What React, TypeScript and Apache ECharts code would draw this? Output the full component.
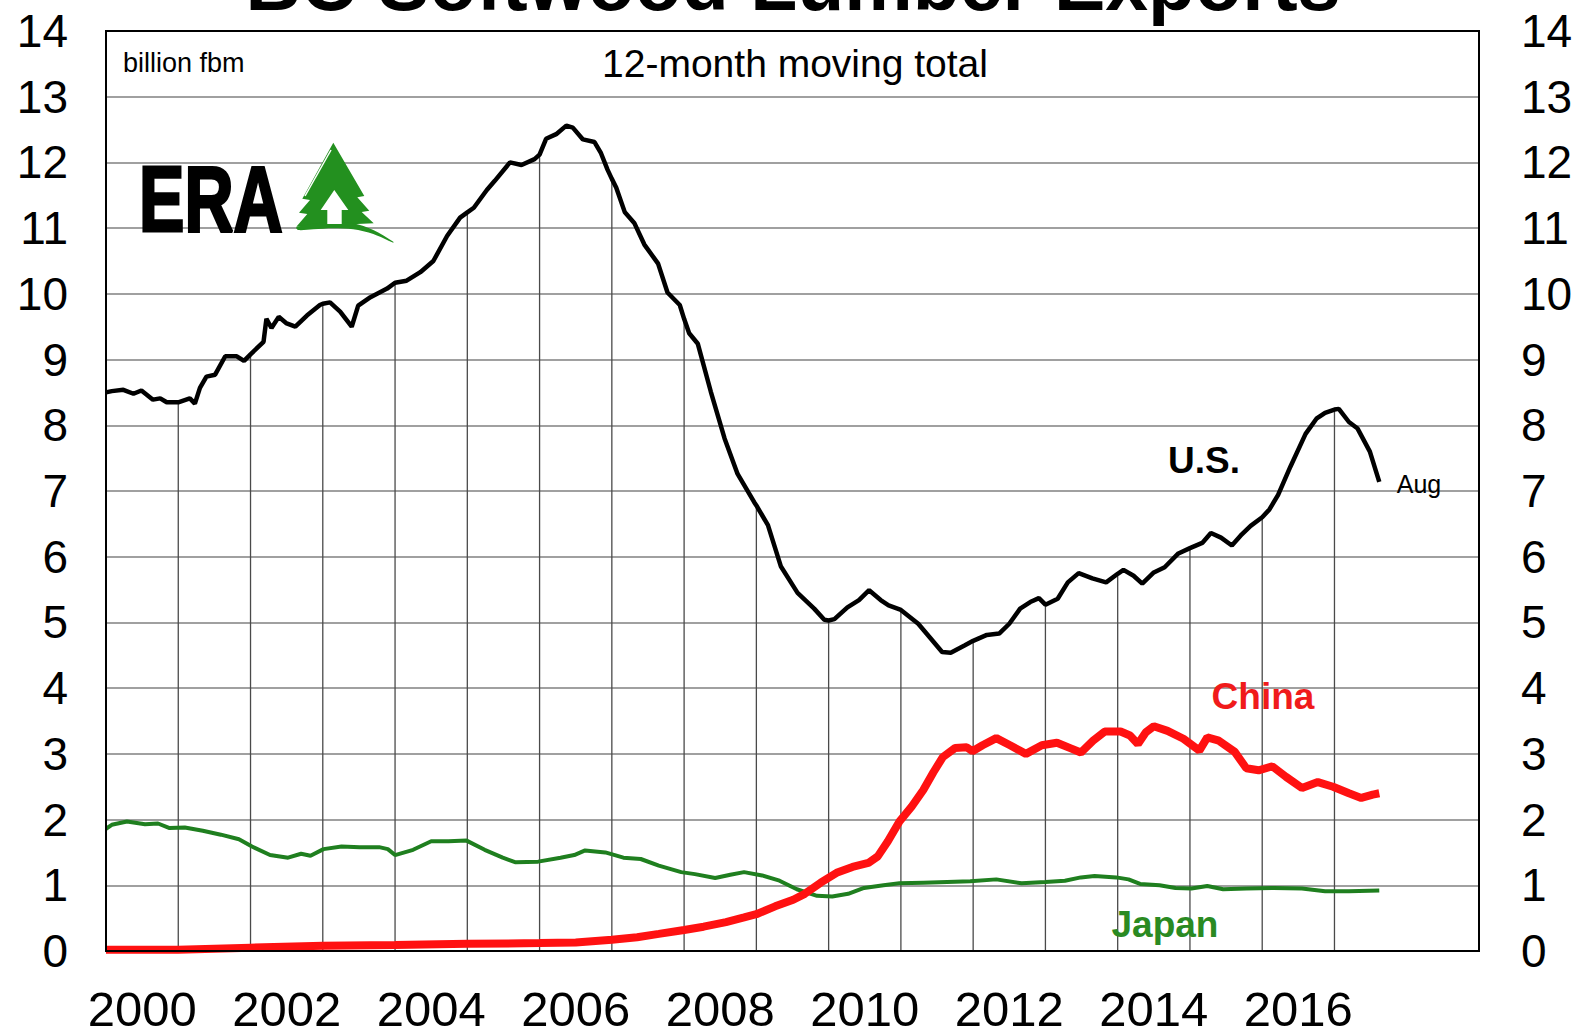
import React, { useEffect, useRef } from 'react';
import * as echarts from 'echarts';

// ---- data (billion fbm, 12-month moving total) ----
const startYear = 2000;
const endYear = 2019;
const xTickLabels = ['2000', '2002', '2004', '2006', '2008', '2010', '2012', '2014', '2016'];

const usYears = [
  2000.0, 2000.08, 2000.24, 2000.38, 2000.49, 2000.65, 2000.75, 2000.84,
  2001.0, 2001.16, 2001.23, 2001.3, 2001.39, 2001.51, 2001.65, 2001.81, 2001.91,
  2002.0, 2002.18, 2002.22, 2002.29, 2002.39, 2002.5, 2002.62, 2002.78, 2002.96,
  2003.0, 2003.1, 2003.24, 2003.4, 2003.49, 2003.66, 2003.89,
  2004.0, 2004.16, 2004.35, 2004.53, 2004.72, 2004.9,
  2005.0, 2005.09, 2005.27, 2005.38, 2005.59, 2005.75, 2005.93,
  2006.0, 2006.09, 2006.23, 2006.37, 2006.46, 2006.6, 2006.76, 2006.85, 2006.94,
  2007.0, 2007.06, 2007.18, 2007.31, 2007.45, 2007.64, 2007.77, 2007.94,
  2008.0, 2008.07, 2008.19, 2008.37, 2008.56, 2008.74, 2008.97,
  2009.0, 2009.16, 2009.34, 2009.57, 2009.8, 2009.94,
  2010.0, 2010.08, 2010.26, 2010.42, 2010.56, 2010.72, 2010.83,
  2011.0, 2011.24, 2011.41, 2011.57, 2011.69, 2011.88,
  2012.0, 2012.19, 2012.36, 2012.5, 2012.65, 2012.79, 2012.91,
  2013.0, 2013.17, 2013.31, 2013.46, 2013.65, 2013.84,
  2014.0, 2014.08, 2014.22, 2014.34, 2014.5, 2014.65, 2014.84,
  2015.0, 2015.17, 2015.29, 2015.43, 2015.58, 2015.7, 2015.84,
  2016.0, 2016.1, 2016.22, 2016.39, 2016.6, 2016.75, 2016.87,
  2017.0, 2017.06, 2017.2, 2017.32, 2017.49, 2017.62,
];
const usValues = [
  8.5, 8.52, 8.54, 8.48, 8.53, 8.39, 8.41, 8.35,
  8.35, 8.41, 8.33, 8.57, 8.74, 8.77, 9.05, 9.05, 8.98,
  9.08, 9.27, 9.62, 9.48, 9.65, 9.55, 9.5, 9.67, 9.83,
  9.85, 9.87, 9.73, 9.5, 9.82, 9.95, 10.08,
  10.17, 10.2, 10.33, 10.5, 10.88, 11.16,
  11.24, 11.31, 11.58, 11.72, 12.0, 11.96, 12.05,
  12.12, 12.36, 12.43, 12.56, 12.53, 12.35, 12.31, 12.14, 11.89,
  11.75, 11.62, 11.24, 11.08, 10.75, 10.46, 10.02, 9.83,
  9.62, 9.4, 9.24, 8.51, 7.8, 7.26, 6.83,
  6.78, 6.48, 5.85, 5.45, 5.21, 5.04,
  5.03, 5.05, 5.23, 5.34, 5.49, 5.34, 5.26,
  5.19, 4.98, 4.76, 4.55, 4.54, 4.65,
  4.72, 4.81, 4.83, 4.98, 5.21, 5.31, 5.37,
  5.27, 5.36, 5.61, 5.75, 5.67, 5.61,
  5.74, 5.8, 5.71, 5.59, 5.76, 5.84, 6.05,
  6.13, 6.21, 6.36, 6.29, 6.17, 6.32, 6.47,
  6.6, 6.72, 6.94, 7.37, 7.87, 8.1, 8.19,
  8.24, 8.25, 8.05, 7.95, 7.6, 7.14,
];

const japanYears = [
  2000.0, 2000.08, 2000.29, 2000.54, 2000.72, 2000.88, 2001.09, 2001.34, 2001.59, 2001.84,
  2002.02, 2002.27, 2002.52, 2002.7, 2002.83, 2003.01, 2003.26, 2003.51, 2003.78, 2003.9,
  2004.0, 2004.25, 2004.5, 2004.74, 2004.99, 2005.24, 2005.49, 2005.67, 2005.98, 2006.29,
  2006.48, 2006.63, 2006.91, 2007.16, 2007.4, 2007.65, 2007.96, 2008.15, 2008.43, 2008.64,
  2008.83, 2009.08, 2009.32, 2009.56, 2009.84, 2010.05, 2010.27, 2010.49, 2010.76, 2010.98,
  2011.31, 2011.64, 2011.96, 2012.32, 2012.67, 2013.0, 2013.27, 2013.49, 2013.68, 2013.98,
  2014.15, 2014.31, 2014.58, 2014.8, 2015.02, 2015.24, 2015.46, 2015.78, 2016.16, 2016.55,
  2016.87, 2017.2, 2017.62,
];
const japanValues = [
  1.86, 1.92, 1.97, 1.93, 1.94, 1.87, 1.88, 1.83, 1.77, 1.7,
  1.59, 1.46, 1.42, 1.48, 1.45, 1.55, 1.59, 1.58, 1.58, 1.55,
  1.46, 1.54, 1.67, 1.67, 1.68, 1.54, 1.42, 1.35, 1.36, 1.42,
  1.46, 1.53, 1.5, 1.42, 1.4, 1.3, 1.2, 1.17, 1.11, 1.16,
  1.2, 1.15, 1.07, 0.94, 0.84, 0.83, 0.87, 0.96, 1.0, 1.03,
  1.04, 1.05, 1.06, 1.09, 1.03, 1.05, 1.07, 1.12, 1.14, 1.12,
  1.09, 1.02, 1.0, 0.96, 0.95, 0.99, 0.94, 0.95, 0.96, 0.95,
  0.91, 0.91, 0.92,
];

const chinaYears = [
  2000.0, 2001.0, 2002.0, 2003.0, 2004.0, 2005.0, 2006.0, 2006.5, 2007.0, 2007.35,
  2007.65, 2008.0, 2008.27, 2008.58, 2008.83, 2009.0, 2009.26, 2009.51, 2009.67, 2009.89,
  2010.11, 2010.33, 2010.55, 2010.68, 2010.82, 2010.98, 2011.15, 2011.31, 2011.45, 2011.58,
  2011.75, 2011.91, 2011.99, 2012.13, 2012.32, 2012.51, 2012.73, 2012.95, 2013.16, 2013.36,
  2013.49, 2013.66, 2013.82, 2014.04, 2014.17, 2014.28, 2014.39, 2014.5, 2014.69, 2014.91,
  2015.13, 2015.24, 2015.4, 2015.62, 2015.78, 2015.95, 2016.14, 2016.33, 2016.55, 2016.77,
  2016.98, 2017.2, 2017.37, 2017.53, 2017.62,
];
const chinaValues = [
  0.02, 0.02, 0.05, 0.08, 0.09, 0.11, 0.12, 0.13, 0.17, 0.21,
  0.26, 0.32, 0.37, 0.44, 0.51, 0.56, 0.68, 0.78, 0.87, 1.04,
  1.19, 1.28, 1.34, 1.44, 1.67, 1.97, 2.2, 2.45, 2.72, 2.95,
  3.09, 3.1, 3.04, 3.13, 3.24, 3.13, 3.0, 3.13, 3.17, 3.08,
  3.02, 3.2, 3.34, 3.34, 3.28, 3.15, 3.33, 3.42, 3.35, 3.23,
  3.05, 3.25, 3.2, 3.03, 2.78, 2.75, 2.81, 2.65, 2.48, 2.57,
  2.5, 2.4, 2.33, 2.38, 2.4,
];

const FONT = "'Liberation Sans', Arial, Helvetica, sans-serif";

function txt(text: string, x: number, y: number, size: number, opts: any = {}) {
  const align = opts.align || 'left';
  const style: any = {
    text,
    fontSize: size,
    fontWeight: opts.bold ? 'bold' : 'normal',
    fontFamily: FONT,
    fill: opts.color || '#000',
    textAlign: align,
    align,
    textVerticalAlign: 'middle',
    verticalAlign: 'middle',
  };
  if (opts.stroke) {
    style.stroke = opts.stroke;
    style.lineWidth = opts.strokeWidth || 2;
  }
  return {
    type: 'text',
    x,
    y,
    z: 100,
    scaleX: opts.scaleX || 1,
    style,
  };
}

export default function App() {
  const ref = useRef<HTMLDivElement>(null);

  useEffect(() => {
    if (!ref.current) return;
    const chart = echarts.init(ref.current, null, { renderer: 'svg' });

    const pairs = (xs: number[], ys: number[]) => xs.map((x, i) => [x, ys[i]]);
    const usData = pairs(usYears, usValues);
    const dropData = usData.filter(([x]) => Number.isInteger(x) && x > startYear);
    const catYears: string[] = [];
    for (let y = startYear; y < endYear; y++) catYears.push(String(y));

    const green = '#23901f';

    chart.setOption({
      animation: false,
      backgroundColor: '#ffffff',
      textStyle: { fontFamily: FONT },
      grid: {
        left: 106,
        right: 102,
        top: 31,
        bottom: 84,
        show: true,
        borderColor: '#000',
        borderWidth: 2,
        backgroundColor: 'transparent',
        z: 10,
      },
      xAxis: [
        {
          type: 'value',
          min: startYear,
          max: endYear,
          interval: 1,
          axisLine: { show: false },
          axisTick: { show: false },
          axisLabel: { show: false },
          splitLine: { show: false },
        },
        {
          type: 'category',
          position: 'bottom',
          data: catYears,
          boundaryGap: true,
          axisLine: { show: false },
          axisTick: { show: false },
          splitLine: { show: false },
          axisLabel: {
            interval: 0,
            margin: 33,
            fontSize: 49,
            color: '#000',
            fontFamily: FONT,
            formatter: (v: string) => (xTickLabels.includes(v) ? v : ''),
          },
        },
      ],
      yAxis: [
        {
          type: 'value',
          position: 'left',
          min: 0,
          max: 14,
          interval: 1,
          axisLine: { show: false },
          axisTick: { show: false },
          axisLabel: { fontSize: 46, color: '#000', margin: 38, fontFamily: FONT },
          splitLine: { show: true, lineStyle: { color: '#a0a0a0', width: 2 } },
        },
        {
          type: 'value',
          position: 'right',
          min: 0,
          max: 14,
          interval: 1,
          axisLine: { show: false },
          axisTick: { show: false },
          axisLabel: { fontSize: 46, color: '#000', margin: 42, fontFamily: FONT },
          splitLine: { show: false },
        },
      ],
      series: [
        {
          name: 'drop',
          type: 'bar',
          xAxisIndex: 0,
          yAxisIndex: 0,
          data: dropData,
          barWidth: 1.3,
          itemStyle: { color: '#4a4a4a' },
          silent: true,
          z: 1,
        },
        {
          name: 'Japan',
          type: 'line',
          xAxisIndex: 0,
          yAxisIndex: 0,
          data: pairs(japanYears, japanValues),
          showSymbol: false,
          lineStyle: { color: '#1f7f1f', width: 4 },
          z: 3,
        },
        {
          name: 'China',
          type: 'line',
          xAxisIndex: 0,
          yAxisIndex: 0,
          data: pairs(chinaYears, chinaValues),
          showSymbol: false,
          lineStyle: { color: '#ff1111', width: 8 },
          z: 4,
        },
        {
          name: 'U.S.',
          type: 'line',
          xAxisIndex: 0,
          yAxisIndex: 0,
          data: usData,
          showSymbol: false,
          lineStyle: { color: '#000', width: 4.5 },
          z: 5,
        },
      ],
      graphic: [
        txt('BC Softwood Lumber Exports', 793, -17, 77, { bold: true, align: 'center' }),
        txt('billion fbm', 123, 63, 27),
        txt('12-month moving total', 795, 63, 39, { align: 'center' }),
        txt('U.S.', 1204, 460, 37, { bold: true, align: 'center' }),
        txt('Aug', 1419, 484, 25, { align: 'center' }),
        txt('China', 1263, 696, 37, { bold: true, align: 'center', color: '#f01b1b' }),
        txt('Japan', 1165, 924, 37, { bold: true, align: 'center', color: '#2a8a22' }),
        // ERA logo
        txt('ERA', 139, 199, 92, { bold: true, scaleX: 0.74, stroke: '#000', strokeWidth: 3 }),
        {
          type: 'polygon',
          z: 100,
          shape: {
            points: [
              [333.3, 142.7], [364.3, 196], [357.3, 197.3], [369.3, 210.7], [361.7, 212],
              [373.7, 223.3], [296.3, 226.7], [307.3, 214], [299, 212.7], [310, 200], [302.3, 198.7],
            ],
          },
          style: { fill: green },
        },
        {
          type: 'polygon',
          z: 101,
          shape: {
            points: [
              [334.3, 190], [348.3, 210], [341.7, 210], [341.7, 224], [327.3, 224], [327.3, 210], [320.7, 210],
            ],
          },
          style: { fill: '#fff' },
        },
        {
          type: 'line',
          z: 101,
          shape: { x1: 331, y1: 150, x2: 305, y2: 196 },
          style: { stroke: '#fff', lineWidth: 1.5 },
        },
        {
          type: 'polygon',
          z: 100,
          shape: {
            smooth: 0.3,
            points: [
              [296.3, 227.3], [316.7, 223.3], [333.3, 222], [353.3, 223.3], [373.3, 230], [393.3, 241.7],
              [393.3, 242.7], [373.3, 234], [353.3, 229.3], [333.3, 228.3], [313.3, 229.3], [298, 230],
            ],
          },
          style: { fill: green },
        },
      ],
    });

    return () => chart.dispose();
  }, []);

  return (
    <div
      ref={ref}
      style={{ position: 'fixed', left: 0, top: 0, width: 1581, height: 1035, background: '#fff' }}
    />
  );
}
